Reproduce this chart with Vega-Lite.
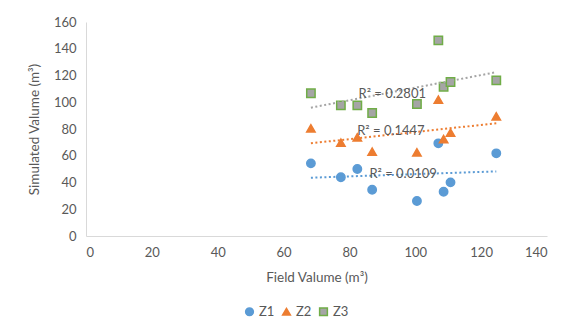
{
  "$schema": "https://vega.github.io/schema/vega-lite/v6.json",
  "autosize": "none",
  "width": 461,
  "height": 214,
  "padding": {"left": 86, "top": 22, "right": 25, "bottom": 97},
  "background": "white",
  "config": {
    "view": {"stroke": null},
    "font": "Lato",
    "axis": {"labelFont": "Lato", "titleFont": "Lato", "labelColor": "#595959", "titleColor": "#595959", "labelFontSize": 13, "titleFontSize": 13.5, "titleFontWeight": "normal", "domainColor": "#D9D9D9", "ticks": false, "grid": false}
  },
  "datasets": {
    "pts": [
      {"field": 68.3, "sim": 54.3, "series": "Z1"},
      {"field": 77.4, "sim": 43.9, "series": "Z1"},
      {"field": 82.4, "sim": 50.1, "series": "Z1"},
      {"field": 86.9, "sim": 34.6, "series": "Z1"},
      {"field": 100.5, "sim": 26.2, "series": "Z1"},
      {"field": 107.0, "sim": 69.3, "series": "Z1"},
      {"field": 108.6, "sim": 33.1, "series": "Z1"},
      {"field": 110.7, "sim": 40.1, "series": "Z1"},
      {"field": 124.6, "sim": 61.8, "series": "Z1"},
      {"field": 68.3, "sim": 80.5, "series": "Z2"},
      {"field": 77.4, "sim": 69.8, "series": "Z2"},
      {"field": 82.4, "sim": 73.8, "series": "Z2"},
      {"field": 86.9, "sim": 63.0, "series": "Z2"},
      {"field": 100.5, "sim": 62.6, "series": "Z2"},
      {"field": 107.0, "sim": 101.9, "series": "Z2"},
      {"field": 108.6, "sim": 72.5, "series": "Z2"},
      {"field": 110.7, "sim": 77.2, "series": "Z2"},
      {"field": 124.6, "sim": 89.5, "series": "Z2"},
      {"field": 68.3, "sim": 106.7, "series": "Z3"},
      {"field": 77.4, "sim": 97.7, "series": "Z3"},
      {"field": 82.4, "sim": 97.7, "series": "Z3"},
      {"field": 86.9, "sim": 92.0, "series": "Z3"},
      {"field": 100.5, "sim": 98.7, "series": "Z3"},
      {"field": 107.0, "sim": 146.3, "series": "Z3"},
      {"field": 108.6, "sim": 111.6, "series": "Z3"},
      {"field": 110.7, "sim": 115.1, "series": "Z3"},
      {"field": 124.6, "sim": 116.4, "series": "Z3"}
    ],
    "labels": [
      {"field": 93.0, "sim": 106.0, "text": "R² = 0.2801"},
      {"field": 92.6, "sim": 78.5, "text": "R² = 0.1447"},
      {"field": 96.3, "sim": 46.4, "text": "R² = 0.0109"}
    ]
  },
  "layer": [
    {
      "data": {"name": "pts"},
      "mark": {"type": "point", "filled": true, "opacity": 1, "size": 70, "strokeWidth": 1.5},
      "encoding": {
        "x": {"field": "field", "type": "quantitative", "scale": {"domain": [0, 140], "nice": false}, "axis": {"tickCount": 8, "title": "Field Valume (m³)", "labelPadding": 10, "titlePadding": 11, "labelOverlap": false}},
        "y": {"field": "sim", "type": "quantitative", "scale": {"domain": [0, 160], "nice": false}, "axis": {"tickCount": 9, "title": "Simulated Valume (m³)", "labelPadding": 10, "titlePadding": 12, "labelOverlap": false}},
        "fill": {"field": "series", "type": "nominal", "scale": {"domain": ["Z1", "Z2", "Z3"], "range": ["#5B9BD5", "#ED7D31", "#A5A5A5"]}, "legend": {"title": null, "orient": "none", "legendX": 157, "legendY": 283, "direction": "horizontal"}},
        "stroke": {"field": "series", "type": "nominal", "scale": {"domain": ["Z1", "Z2", "Z3"], "range": ["#5B9BD5", "#ED7D31", "#70AD47"]}, "legend": {"title": null, "orient": "none", "legendX": 157, "legendY": 283, "direction": "horizontal"}},
        "shape": {"field": "series", "type": "nominal", "scale": {"domain": ["Z1", "Z2", "Z3"], "range": ["circle", "triangle-up", "square"]}, "legend": {"title": null, "orient": "none", "legendX": 157, "legendY": 283, "direction": "horizontal", "labelFont": "Lato", "labelFontSize": 13, "labelColor": "#595959", "symbolSize": 60, "columnPadding": 4, "labelOffset": 3}}
      }
    },
    {
      "data": {"name": "pts"},
      "transform": [{"regression": "sim", "on": "field", "groupby": ["series"]}],
      "mark": {"type": "line", "strokeDash": [2, 2.5], "strokeWidth": 2},
      "encoding": {
        "x": {"field": "field", "type": "quantitative"},
        "y": {"field": "sim", "type": "quantitative"},
        "color": {"field": "series", "type": "nominal", "scale": {"domain": ["Z1", "Z2", "Z3"], "range": ["#5B9BD5", "#ED7D31", "#A5A5A5"]}, "legend": null}
      }
    },
    {
      "data": {"name": "labels"},
      "mark": {"type": "text", "fontSize": 13, "color": "#595959", "font": "Lato"},
      "encoding": {
        "x": {"field": "field", "type": "quantitative"},
        "y": {"field": "sim", "type": "quantitative"},
        "text": {"field": "text"}
      }
    }
  ]
}
